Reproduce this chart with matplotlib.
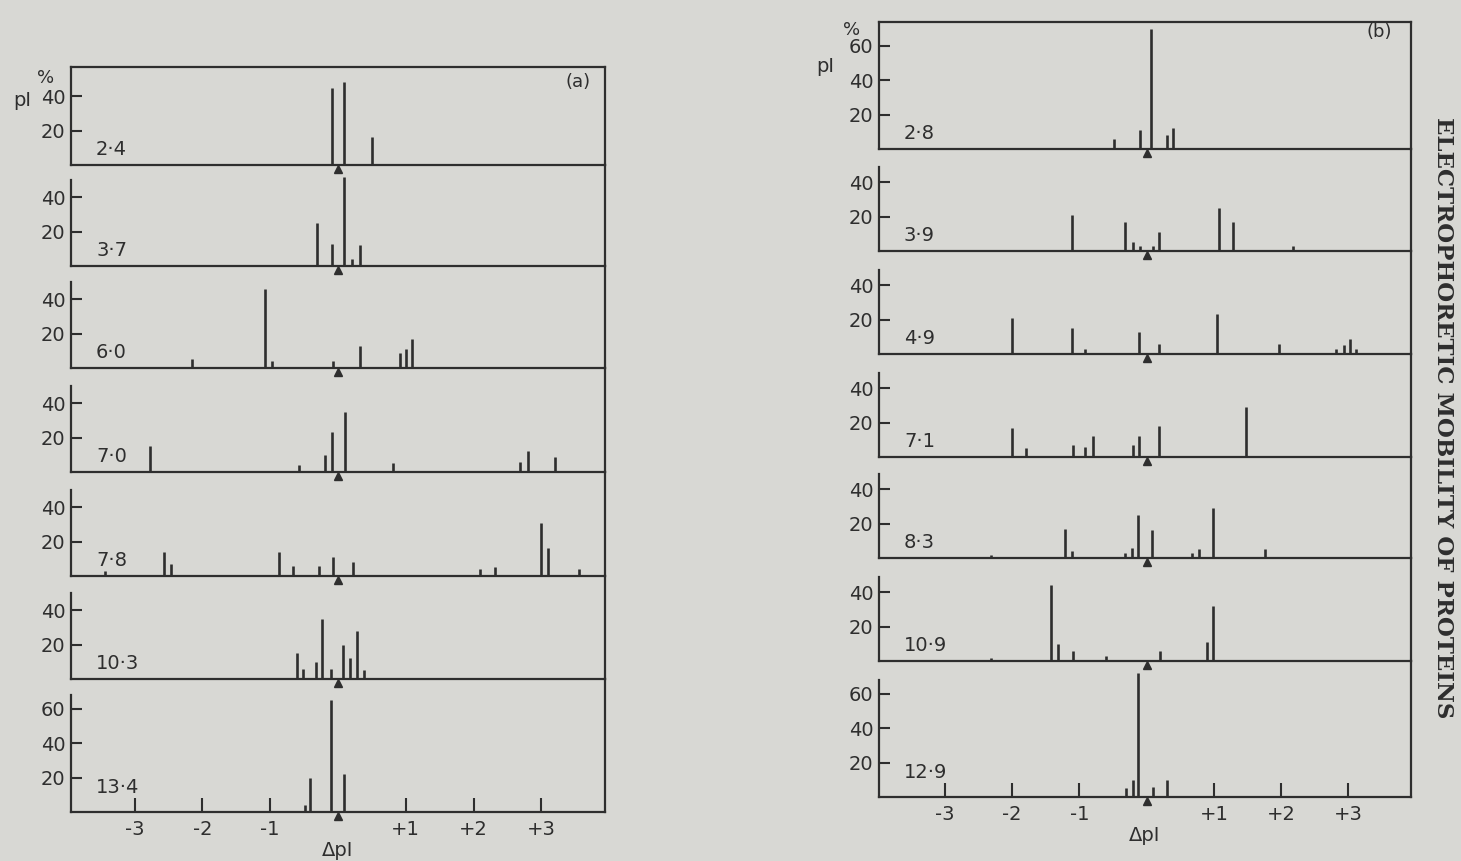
import matplotlib
matplotlib.use('Agg')
import matplotlib.pyplot as plt

# ---------------- data ----------------
labels_a = ['2·4', '3·7', '6·0', '7·0', '7·8', '10·3', '13·4']
pos_a = [
    [-0.09, 0.09, 0.50],
    [-0.31, -0.09, 0.09, 0.20, 0.32],
    [-2.15, -1.08, -0.98, -0.08, 0.33, 0.91, 1.00, 1.09],
    [-2.77, -0.58, -0.19, -0.09, 0.11, 0.81, 2.69, 2.81, 3.20],
    [-3.44, -2.57, -2.47, -0.87, -0.67, -0.28, -0.08, 0.22, 2.10, 2.32, 3.00, 3.10, 3.56],
    [-0.60, -0.52, -0.33, -0.23, -0.11, 0.08, 0.18, 0.28, 0.39],
    [-0.49, -0.41, -0.11, 0.09],
]
hts_a = [
    [45, 48, 16],
    [25, 13, 52, 4, 12],
    [5, 46, 4, 4, 13, 9, 11, 17],
    [15, 4, 10, 23, 35, 5, 6, 12, 9],
    [3, 14, 7, 14, 6, 6, 11, 8, 4, 5, 31, 16, 4],
    [15, 6, 10, 35, 6, 20, 12, 28, 5],
    [4, 20, 65, 22],
]

labels_b = ['2·8', '3·9', '4·9', '7·1', '8·3', '10·9', '12·9']
pos_b = [
    [-0.48, -0.10, 0.07, 0.30, 0.39],
    [-1.11, -0.32, -0.20, -0.10, 0.09, 0.19, 1.07, 1.28, 2.18],
    [-2.00, -1.11, -0.92, -0.11, 0.18, 1.05, 1.97, 2.82, 2.93, 3.03, 3.11],
    [-2.00, -1.80, -1.10, -0.91, -0.80, -0.21, -0.11, 0.19, 1.47],
    [-2.32, -1.22, -1.11, -0.32, -0.22, -0.13, 0.08, 0.68, 0.78, 0.98, 1.76],
    [-2.31, -1.43, -1.32, -1.10, -0.60, 0.20, 0.90, 0.99],
    [-0.31, -0.21, -0.125, 0.09, 0.30],
]
hts_b = [
    [6, 11, 70, 8, 12],
    [21, 17, 5, 3, 3, 11, 25, 17, 3],
    [21, 15, 3, 13, 6, 23, 6, 3, 5, 9, 3],
    [17, 5, 7, 6, 12, 7, 12, 18, 29],
    [2, 17, 4, 3, 6, 25, 16, 3, 5, 29, 5],
    [2, 44, 10, 6, 3, 6, 11, 32],
    [5, 10, 72, 6, 10],
]

xticks = [-3, -2, -1, 1, 2, 3]
xticklabels = ['-3', '-2', '-1', '+1', '+2', '+3']

# ---------------- style / layout ----------------
W, H = 1461, 861
BG = '#d8d8d4'
INK = '#2e2e2e'
FS = 14
PPU = 1.72  # pixels per % unit

fig = plt.figure(figsize=(W / 100, H / 100), dpi=100)
fig.patch.set_facecolor(BG)


def px_axes(left, top, right, bottom):
    return fig.add_axes([left / W, 1 - bottom / H, (right - left) / W, (bottom - top) / H])


def panel(labels, positions, heights, left, right, top, baselines, xlim, spine_top, tag, tag_xy):
    n = len(labels)
    tops = [top] + baselines[:-1]
    for i in range(n):
        ax = px_axes(left, tops[i], right, baselines[i])
        ax.set_facecolor('none')
        hpx = baselines[i] - tops[i]
        ytop = hpx / PPU
        ax.set_xlim(*xlim)
        ax.set_ylim(0, ytop)
        ax.vlines(positions[i], 0, heights[i], color=INK, lw=1.9, zorder=3)
        # reference marker at zero
        ax.plot([0], [-2.6], marker='^', ms=6, color=INK, clip_on=False, zorder=5)
        for s in ax.spines.values():
            s.set_color(INK)
            s.set_linewidth(1.6)
        ax.spines['top'].set_visible(i == 0)
        if i > 0:
            ax.spines['left'].set_bounds(0, spine_top if i < n - 1 else 68)
        yt = [20, 40, 60] if ytop > 68 else [20, 40]
        ax.set_yticks(yt)
        ax.set_yticklabels([str(v) for v in yt])
        ax.tick_params(axis='y', direction='in', length=8, width=1.5, color=INK,
                       labelsize=FS, labelcolor=INK, pad=4)
        if i == n - 1:
            ax.set_xticks(xticks)
            ax.set_xticklabels(xticklabels)
            ax.tick_params(axis='x', direction='in', length=10, width=1.5, color=INK,
                           labelsize=FS, labelcolor=INK, pad=6)
            ax.set_xlabel('ΔpI', fontsize=FS, color=INK, labelpad=1)
        else:
            ax.set_xticks([])
        ly = 14 if i == n - 1 else 9
        ax.text(xlim[0] + 0.37, ly, labels[i], fontsize=FS, color=INK, va='center', ha='left')
        if i == 0:
            ax.text(tag_xy[0], tag_xy[1], tag, transform=ax.transAxes, fontsize=FS - 1,
                    color=INK, ha='center', va='center')


# panel (a)
panel(labels_a, pos_a, hts_a, left=71, right=605, top=67,
      baselines=[165, 266, 368, 472, 576, 679, 812], xlim=(-3.94, 3.94),
      spine_top=50, tag='(a)', tag_xy=(0.95, 0.85))
# panel (b)
panel(labels_b, pos_b, hts_b, left=879, right=1411, top=22,
      baselines=[149, 251, 354, 457, 558, 661, 797], xlim=(-3.98, 3.93),
      spine_top=49, tag='(b)', tag_xy=(0.94, 0.92))

# axis titles
for (x, y) in [(46, 78), (852, 30)]:
    fig.text(x / W, 1 - y / H, '%', fontsize=FS - 1, color=INK, ha='center', va='center')
for (x, y) in [(22, 101), (825, 67)]:
    fig.text(x / W, 1 - y / H, 'pI', fontsize=FS, color=INK, ha='center', va='center')

fig.text(1443 / W, 1 - 418 / H, 'ELECTROPHORETIC MOBILITY OF PROTEINS', rotation=-90,
         fontsize=16.5, fontfamily='DejaVu Serif', fontweight='bold', color=INK,
         ha='center', va='center')

fig.savefig('out.png', dpi=100, facecolor=BG)
